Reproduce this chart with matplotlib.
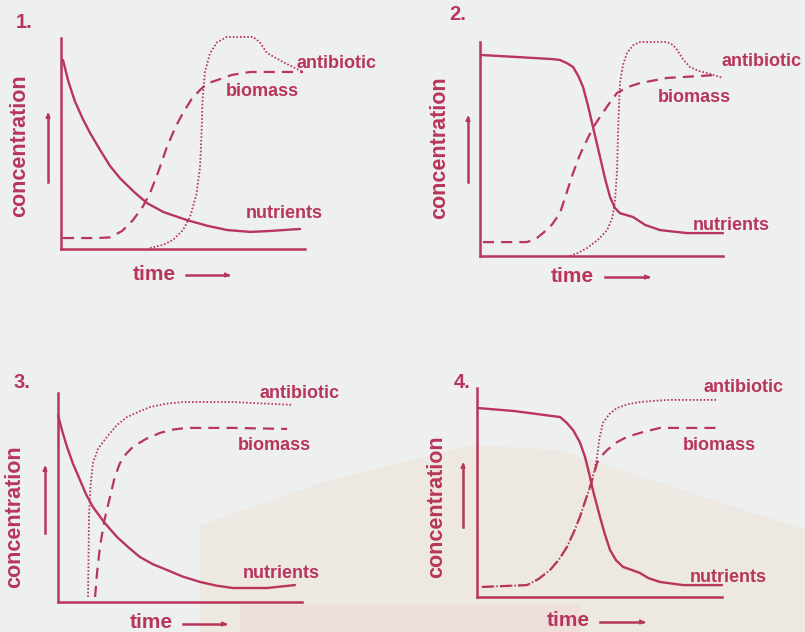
import matplotlib
matplotlib.use("Agg")
import matplotlib.pyplot as plt
from matplotlib.patches import Polygon

W, H = 805, 632
RED = "#b8355b"
BG = "#eef0ef"
FONT = "Liberation Sans"

# ---------------- data (time 0-10, concentration 0-10) ----------------
# Panel 1
p1_nut_t = [0.08, 0.3, 0.57, 0.9, 1.19, 1.6, 2.0, 2.42, 3.0, 3.52, 4.2, 5.16, 6.0, 6.8, 7.75, 8.5, 9.8]
p1_nut_c = [8.96, 7.95, 7.0, 6.15, 5.5, 4.7, 3.95, 3.35, 2.7, 2.18, 1.75, 1.37, 1.1, 0.9, 0.81, 0.85, 0.95]
p1_bio_t = [0.08, 1.5, 2.0, 2.5, 2.95, 3.35, 3.65, 4.0, 4.34, 4.7, 5.0, 5.35, 5.70, 6.0, 6.39, 7.0, 7.75, 9.92]
p1_bio_c = [0.52, 0.52, 0.55, 0.85, 1.37, 2.0, 2.65, 3.7, 4.83, 5.8, 6.45, 7.1, 7.54, 7.85, 8.0, 8.25, 8.39, 8.39]
p1_ant_t = [3.65, 4.2, 4.59, 5.0, 5.29, 5.55, 5.70, 5.76, 5.80, 5.9, 6.11, 6.4, 6.80, 7.87, 8.15, 8.44, 9.10, 9.92]
p1_ant_c = [0.05, 0.2, 0.43, 0.9, 1.52, 2.6, 3.89, 5.5, 7.06, 8.4, 9.29, 9.8, 10.05, 10.05, 9.8, 9.29, 8.86, 8.39]

# Panel 2
p2_nut_t = [0.08, 1.5, 3.0, 3.29, 3.6, 3.83, 4.05, 4.24, 4.45, 4.65, 4.8, 4.94, 5.15, 5.35, 5.55, 5.76,
            6.0, 6.30, 6.8, 7.41, 8.52, 10.0]
p2_nut_c = [9.39, 9.3, 9.2, 9.16, 9.0, 8.83, 8.4, 7.9, 7.0, 6.03, 5.3, 4.63, 3.6, 2.76, 2.25, 2.0,
            1.92, 1.82, 1.45, 1.21, 1.07, 1.07]
p2_bio_t = [0.12, 1.93, 2.3, 2.59, 2.95, 3.29, 3.55, 3.83, 4.1, 4.40, 4.65, 4.94, 5.3, 5.64, 6.1, 6.58, 7.70, 9.75]
p2_bio_c = [0.65, 0.65, 0.8, 1.07, 1.45, 2.0, 2.9, 3.88, 4.7, 5.42, 6.0, 6.5, 7.1, 7.62, 7.9, 8.08, 8.32, 8.46]
p2_ant_t = [3.70, 4.05, 4.40, 4.85, 5.23, 5.45, 5.56, 5.64, 5.68, 5.72, 5.76, 5.88, 6.05, 6.3, 6.58,
            7.70, 7.95, 8.11, 8.35, 8.64, 9.0, 9.34, 10.0]
p2_ant_c = [0.0, 0.15, 0.37, 0.75, 1.21, 1.8, 2.62, 4.0, 5.75, 7.0, 8.08, 8.9, 9.49, 9.85, 10.0,
            10.0, 9.85, 9.63, 9.2, 8.83, 8.65, 8.55, 8.32]

# Panel 3
p3_nut_t = [0.0, 0.18, 0.37, 0.62, 0.90, 1.15, 1.43, 1.9, 2.42, 2.9, 3.36, 3.9, 4.47, 5.1, 5.82, 6.5,
            7.17, 8.57, 9.71]
p3_nut_c = [8.95, 8.15, 7.42, 6.6, 5.84, 5.15, 4.55, 3.8, 3.11, 2.6, 2.15, 1.8, 1.53, 1.22, 0.96, 0.78,
            0.67, 0.67, 0.81]
p3_bio_t = [1.52, 1.6, 1.72, 1.9, 2.13, 2.32, 2.54, 2.8, 3.07, 3.6, 4.18, 4.7, 5.29, 7.17, 9.39]
p3_bio_c = [0.24, 1.4, 2.63, 3.9, 5.02, 5.95, 6.65, 7.1, 7.42, 7.8, 8.09, 8.25, 8.33, 8.33, 8.28]
p3_ant_t = [1.23, 1.25, 1.27, 1.33, 1.43, 1.65, 2.0, 2.4, 2.83, 3.3, 3.77, 4.4, 5.12, 7.17, 9.63]
p3_ant_c = [0.24, 2.0, 4.07, 5.5, 6.65, 7.35, 7.89, 8.45, 8.85, 9.1, 9.33, 9.48, 9.57, 9.57, 9.43]

# Panel 4
p4_nut_t = [0.04, 1.5, 3.39, 3.65, 3.92, 4.2, 4.41, 4.58, 4.73, 4.88, 5.02, 5.22, 5.43, 5.68, 5.96,
            6.3, 6.65, 7.0, 7.47, 8.41, 10.0]
p4_nut_c = [9.04, 8.9, 8.61, 8.35, 7.99, 7.4, 6.70, 5.9, 5.12, 4.45, 3.83, 3.0, 2.25, 1.75, 1.44,
            1.3, 1.15, 0.9, 0.72, 0.57, 0.57]
p4_bio_t = [0.2, 2.04, 2.5, 2.98, 3.35, 3.67, 3.95, 4.20, 4.42, 4.61, 4.78, 4.90, 5.08, 5.31, 5.7,
            6.12, 6.8, 7.47, 9.92]
p4_bio_c = [0.48, 0.57, 0.85, 1.29, 1.8, 2.39, 3.1, 3.83, 4.6, 5.26, 5.9, 6.41, 6.75, 7.03, 7.4,
            7.66, 7.9, 8.09, 8.09]
p4_ant_t = [0.2, 2.04, 2.5, 2.98, 3.35, 3.67, 3.95, 4.20, 4.42, 4.61, 4.78, 4.90, 5.0, 5.14, 5.4,
            5.71, 6.15, 6.65, 7.76, 9.84]
p4_ant_c = [0.48, 0.57, 0.85, 1.29, 1.8, 2.39, 3.1, 3.83, 4.6, 5.26, 6.0, 6.70, 7.6, 8.33, 8.75,
            9.04, 9.22, 9.33, 9.43, 9.43]

panel_names = ["1.", "2.", "3.", "4."]
series_names = ["nutrients", "biomass", "antibiotic"]
x_label = "time"
y_label = "concentration"

# ---------------- layout ----------------
fig = plt.figure(figsize=(W / 100, H / 100), dpi=100)
fig.patch.set_facecolor(BG)

def fx(x):
    return x / W

def fy(y):
    return 1 - y / H

# faint scanned-background watermark
fig.add_artist(Polygon([(fx(200), fy(525)), (fx(330), fy(480)), (fx(470), fy(445)), (fx(560), fy(450)),
                        (fx(805), fy(530)), (fx(805), fy(632)), (fx(200), fy(632))],
                       closed=True, transform=fig.transFigure, facecolor="#ede3da",
                       edgecolor="none", alpha=0.6, zorder=0))
fig.add_artist(Polygon([(fx(240), fy(605)), (fx(580), fy(605)), (fx(580), fy(632)),
                        (fx(240), fy(632))], closed=True, transform=fig.transFigure,
                       facecolor="#efd8da", edgecolor="none", alpha=0.5, zorder=0))

panels = [
    dict(box=(61, 38, 305, 249), data=(p1_nut_t, p1_nut_c, p1_bio_t, p1_bio_c, p1_ant_t, p1_ant_c),
         num=(16, 22), ylab=(20, 146), yarr=(48, 182, 110), xlab=(133, 275), xarr=(186, 233, 275),
         lab=dict(antibiotic=(296, 64), biomass=(226, 91), nutrients=(246, 214)), nut_arrow=True),
    dict(box=(480, 42, 723, 256), data=(p2_nut_t, p2_nut_c, p2_bio_t, p2_bio_c, p2_ant_t, p2_ant_c),
         num=(449, 14), ylab=(440, 148), yarr=(468, 182, 113), xlab=(551, 276), xarr=(605, 653, 277),
         lab=dict(antibiotic=(721, 62), biomass=(658, 97), nutrients=(693, 225)), nut_arrow=False),
    dict(box=(58, 393, 302, 602), data=(p3_nut_t, p3_nut_c, p3_bio_t, p3_bio_c, p3_ant_t, p3_ant_c),
         num=(13, 382), ylab=(15, 517), yarr=(45, 533, 463), xlab=(130, 622), xarr=(183, 230, 624),
         lab=dict(antibiotic=(259, 394), biomass=(238, 446), nutrients=(243, 574)), nut_arrow=False),
    dict(box=(477, 388, 722, 597), data=(p4_nut_t, p4_nut_c, p4_bio_t, p4_bio_c, p4_ant_t, p4_ant_c),
         num=(454, 383), ylab=(437, 507), yarr=(463, 527, 460), xlab=(547, 620), xarr=(600, 648, 622),
         lab=dict(antibiotic=(703, 388), biomass=(683, 446), nutrients=(690, 578)), nut_arrow=False),
]

txt_kw = dict(color=RED, fontfamily=FONT, fontweight="bold")

for name, p in zip(panel_names, panels):
    l, t, r, b = p["box"]
    ax = fig.add_axes([fx(l), fy(b), (r - l) / W, (b - t) / H])
    ax.set_xlim(0, 10)
    ax.set_ylim(0, 10)
    ax.patch.set_alpha(0)
    for s in ["top", "right"]:
        ax.spines[s].set_visible(False)
    for s in ["left", "bottom"]:
        ax.spines[s].set_color(RED)
        ax.spines[s].set_linewidth(1.8)
    ax.set_xticks([])
    ax.set_yticks([])
    nt, nc, bt, bc, at, ac = p["data"]
    ax.plot(nt, nc, color=RED, lw=1.7, solid_capstyle="round", solid_joinstyle="round",
            clip_on=False, label=series_names[0])
    ax.plot(bt, bc, color=RED, lw=1.6, linestyle=(0, (5.0, 3.2)), clip_on=False, label=series_names[1])
    ax.plot(at, ac, color=RED, lw=1.3, linestyle=(0, (0.9, 1.1)), clip_on=False, label=series_names[2])
    if p["nut_arrow"]:
        ax.annotate("", xy=(nt[-1] + 0.25, nc[-1]), xytext=(nt[-1] - 0.2, nc[-1]),
                    arrowprops=dict(arrowstyle="-|>", color=RED, lw=1.2, mutation_scale=7))

    fig.text(fx(p["num"][0]), fy(p["num"][1]), name, fontsize=14.5, ha="left", va="center", **txt_kw)
    fig.text(fx(p["ylab"][0]), fy(p["ylab"][1]), y_label, fontsize=15.5, rotation=90,
             ha="center", va="center", **txt_kw)
    xa, y1, y2 = p["yarr"]
    fig.add_artist(plt.Line2D([fx(xa), fx(xa)], [fy(y1), fy(y2 + 5)], color=RED, lw=1.8,
                              transform=fig.transFigure))
    ax.annotate("", xy=(fx(xa), fy(y2)), xytext=(fx(xa), fy(y2 + 8)), xycoords="figure fraction",
                textcoords="figure fraction",
                arrowprops=dict(arrowstyle="-|>", color=RED, lw=1.0, mutation_scale=7))
    fig.text(fx(p["xlab"][0]), fy(p["xlab"][1]), x_label, fontsize=15, ha="left", va="center", **txt_kw)
    x1, x2, ya = p["xarr"]
    fig.add_artist(plt.Line2D([fx(x1), fx(x2 - 5)], [fy(ya), fy(ya)], color=RED, lw=1.8,
                              transform=fig.transFigure))
    ax.annotate("", xy=(fx(x2), fy(ya)), xytext=(fx(x2 - 8), fy(ya)), xycoords="figure fraction",
                textcoords="figure fraction",
                arrowprops=dict(arrowstyle="-|>", color=RED, lw=1.0, mutation_scale=7))
    for key, (lx, ly) in p["lab"].items():
        fig.text(fx(lx), fy(ly), key, fontsize=13, ha="left", va="center", **txt_kw)

fig.savefig("out.png", dpi=100, facecolor=BG)
